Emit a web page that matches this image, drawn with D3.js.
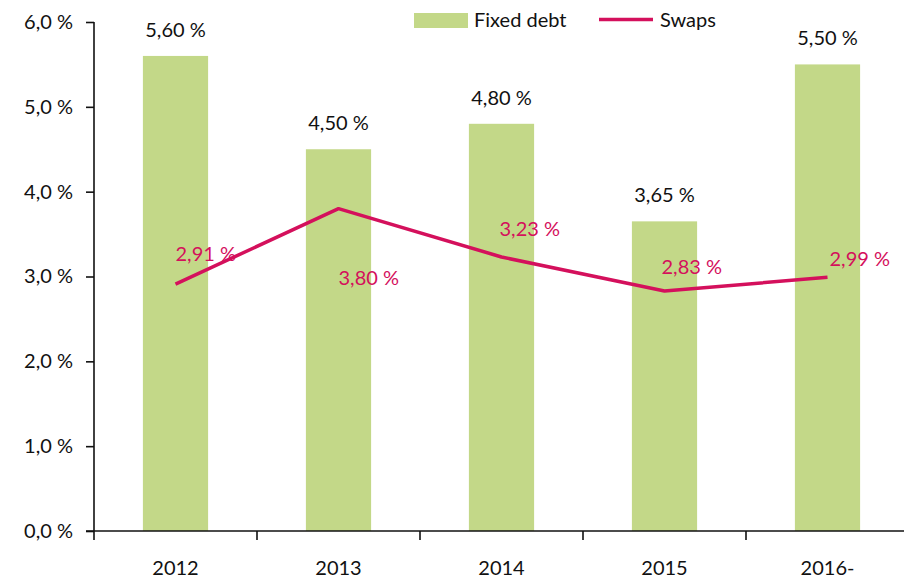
<!DOCTYPE html>
<html>
<head>
<meta charset="utf-8">
<script src="https://cdn.jsdelivr.net/npm/d3@7"></script>
<style>
  body { margin: 0; background: #fff; }
  text { font-family: Lato, "Open Sans", sans-serif; }
</style>
</head>
<body>
<div id="chart"></div>
<script>
const years = ["2012", "2013", "2014", "2015", "2016-"];
const fixedDebt = [5.60, 4.50, 4.80, 3.65, 5.50];
const swaps = [2.91, 3.80, 3.23, 2.83, 2.99];
const yTicks = [0, 1, 2, 3, 4, 5, 6];

// where Excel had the swap labels dragged to (dx, dy from the point)
const swapLabelOffset = [[0, -23], [0, 76], [-2, -21], [-3, -17], [2, -11]];

const width = 904, height = 578;
const margin = { top: 22, right: -5, bottom: 47, left: 94 };

const svg = d3.select("#chart")
  .append("svg")
  .attr("width", width)
  .attr("height", height);

const x = d3.scaleBand()
  .domain(years)
  .range([margin.left, width - margin.right])
  .paddingInner(0.6)
  .paddingOuter(0.3);

const y = d3.scaleLinear()
  .domain([0, 6])
  .range([height - margin.bottom, margin.top]);

const fmt2 = d => d.toFixed(2).replace(".", ",") + " %";
const fmt1 = d => d.toFixed(1).replace(".", ",") + " %";

// bars
svg.append("g")
  .selectAll("rect")
  .data(fixedDebt)
  .join("rect")
  .attr("x", (d, i) => x(years[i]))
  .attr("y", d => y(d))
  .attr("width", x.bandwidth())
  .attr("height", d => y(0) - y(d))
  .attr("fill", "#c3d888");

svg.append("g")
  .selectAll("text")
  .data(fixedDebt)
  .join("text")
  .attr("x", (d, i) => x(years[i]) + x.bandwidth() / 2)
  .attr("y", d => y(d) - 19)
  .attr("text-anchor", "middle")
  .attr("font-size", 20)
  .attr("fill", "#111")
  .text(fmt2);

// y axis
const yAxis = svg.append("g")
  .attr("transform", `translate(${margin.left},0)`)
  .call(d3.axisLeft(y).tickValues(yTicks).tickFormat(fmt1).tickSize(8).tickPadding(13));
yAxis.select(".domain").attr("d", `M0,${y(6)}V${y(0) + 9}`);
yAxis.selectAll("line, path").attr("stroke", "#111").attr("stroke-width", 1.6);
yAxis.selectAll("text").attr("font-size", 20).attr("fill", "#111")
  .attr("font-family", "Lato, 'Open Sans', sans-serif");

// x axis
const step = x.step();
const xAxis = svg.append("g")
  .attr("transform", `translate(0,${y(0)})`)
  .call(d3.axisBottom(x).tickSize(0).tickPadding(30));
xAxis.select(".domain").attr("d", `M${margin.left - 8},0H${width}`)
  .attr("stroke", "#111").attr("stroke-width", 1.6);
xAxis.selectAll("text").attr("font-size", 20).attr("fill", "#111")
  .attr("font-family", "Lato, 'Open Sans', sans-serif");
xAxis.selectAll(".sep")
  .data(years.slice(1))
  .join("line")
  .attr("class", "sep")
  .attr("x1", d => x(d) - x.paddingInner() * step / 2)
  .attr("x2", d => x(d) - x.paddingInner() * step / 2)
  .attr("y1", 0)
  .attr("y2", 9)
  .attr("stroke", "#111")
  .attr("stroke-width", 1.6);

// swaps line
const line = d3.line()
  .x((d, i) => x(years[i]) + x.bandwidth() / 2)
  .y(d => y(d));

svg.append("path")
  .datum(swaps)
  .attr("d", line)
  .attr("fill", "none")
  .attr("stroke", "#d4105c")
  .attr("stroke-width", 3.5)
  .attr("stroke-linejoin", "round");

svg.append("g")
  .selectAll("text")
  .data(swaps)
  .join("text")
  .attr("x", (d, i) => x(years[i]) + x.bandwidth() / 2 + swapLabelOffset[i][0])
  .attr("y", (d, i) => y(d) + swapLabelOffset[i][1])
  .attr("font-size", 20)
  .attr("fill", "#d4105c")
  .text(fmt2);

// legend
const legend = svg.append("g");
legend.append("rect")
  .attr("x", 414).attr("y", 13)
  .attr("width", 54).attr("height", 15)
  .attr("fill", "#c3d888");
legend.append("text")
  .attr("x", 474).attr("y", 27)
  .attr("font-size", 20).attr("fill", "#111")
  .text("Fixed debt");
legend.append("line")
  .attr("x1", 599).attr("x2", 653)
  .attr("y1", 19.5).attr("y2", 19.5)
  .attr("stroke", "#d4105c").attr("stroke-width", 3.5);
legend.append("text")
  .attr("x", 660).attr("y", 27)
  .attr("font-size", 20).attr("fill", "#111")
  .text("Swaps");
</script>
</body>
</html>
